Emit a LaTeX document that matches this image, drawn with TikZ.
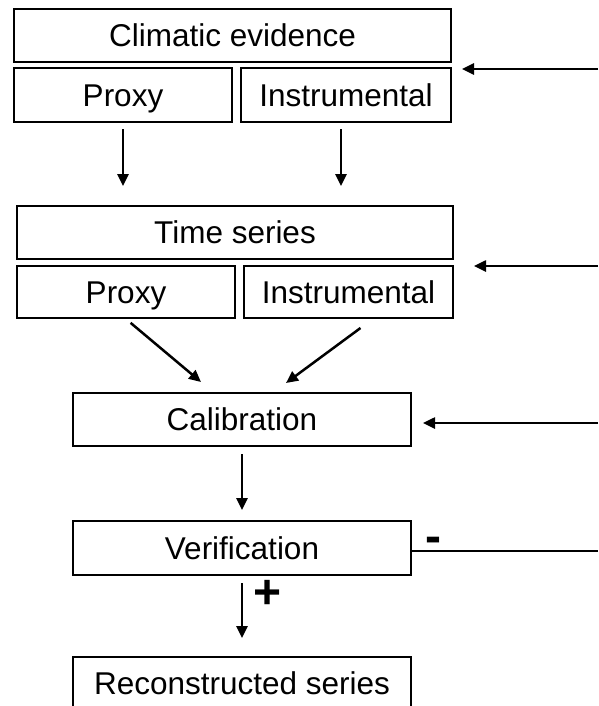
\documentclass[tikz,border=0pt]{standalone}
\usepackage{fontspec}
\setmainfont{Liberation Sans}
\usetikzlibrary{arrows.meta}

\begin{document}
\begin{tikzpicture}[x=1pt, y=-1pt,
    box/.style={draw, line width=2pt, inner sep=0pt, text height=22.5pt, text depth=0pt,
      font=\fontsize{31.5}{37}\selectfont},
    arr/.style={-{Triangle[length=12pt,width=11pt]}, line width=2.5pt},
    sign/.style={font=\fontsize{48}{48}\selectfont\bfseries}]
  \useasboundingbox (0,0) rectangle (598,706);

  % climatic evidence
  \node[box, minimum width=437pt, minimum height=53pt] (clim) at (232.5,35.5) {Climatic evidence};
  \node[box, minimum width=218pt, minimum height=54pt] (prox1) at (123,95) {Proxy};
  \node[box, minimum width=210pt, minimum height=54pt] (inst1) at (346,95) {Instrumental};

  % time series
  \node[box, minimum width=436pt, minimum height=53pt] (ts) at (235,232.5) {Time series};
  \node[box, minimum width=218pt, minimum height=52pt] (prox2) at (126,292) {Proxy};
  \node[box, minimum width=209pt, minimum height=52pt] (inst2) at (348.5,292) {Instrumental};

  \node[box, minimum width=338pt, minimum height=53pt] (calib) at (242,419.5) {Calibration};
  \node[box, minimum width=338pt, minimum height=54pt] (verif) at (242,548) {Verification};
  \node[box, minimum width=338pt, minimum height=53pt] (recon) at (242,683.5) {Reconstructed series};

  \node[sign] (minus) at (433,545) {-};
  \node[sign] (plus) at (268,594) {+};

  % lines coming in from the right
  \coordinate (in1) at (598,69);
  \coordinate (in2) at (598,266);
  \coordinate (in3) at (598,423);
  \coordinate (out) at (598,551);

  \draw[arr, shorten >=10pt] (in1) -- (in1 -| clim.east);
  \draw[arr, shorten >=20pt] (in2) -- (in2 -| ts.east);
  \draw[arr, shorten >=11pt] (in3) -- (in3 -| calib.east);
  \draw[line width=2pt] (out -| verif.east) -- (out);

  \draw[arr, shorten <=6pt, shorten >=19pt] (prox1.south) -- (prox1.south |- ts.north);
  \draw[arr, shorten <=6pt, shorten >=19pt] ([xshift=-5pt]inst1.south) -- ([xshift=-5pt]inst1.south |- ts.north);

  \draw[arr, shorten <=6pt] (prox2.south) -- ([xshift=-41pt, yshift=10pt]calib.north);
  \draw[arr] ([xshift=12pt, yshift=-9pt]inst2.south) -- ([xshift=44pt, yshift=9pt]calib.north);

  \draw[arr, shorten <=7pt, shorten >=10pt] (calib.south) -- (verif.north);
  \draw[arr, shorten <=7pt, shorten >=18pt] (verif.south) -- (recon.north);
\end{tikzpicture}
\end{document}
